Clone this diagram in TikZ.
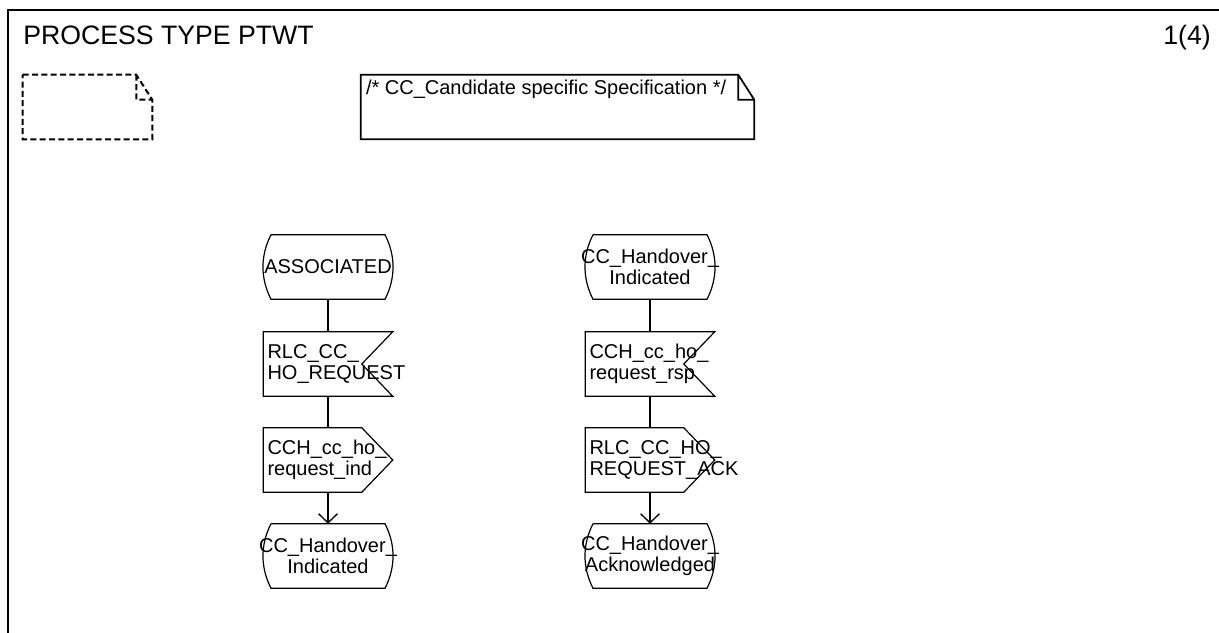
\documentclass[tikz,border=0pt]{standalone}
\usepackage{fontspec}
\setmainfont{Liberation Sans}
\usetikzlibrary{arrows.meta}

\tikzset{
  sdltext/.style={font=\fontsize{15}{15.75}\selectfont, execute at begin node={\hyphenpenalty=10000\exhyphenpenalty=10000}},
  statebox/.style={sdltext, minimum width=85.5pt, minimum height=48pt, inner sep=0pt, align=center},
  signalbox/.style={sdltext, minimum height=48pt, text width=90.75pt, inner sep=3pt, align=left},
  textbox/.style={minimum width=#1, minimum height=48pt, inner sep=0pt},
  shapeline/.style={line width=0.9pt},
  flow/.style={line width=1.4pt},
}

\begin{document}
\begin{tikzpicture}[x=0.75pt, y=-0.75pt]
  \useasboundingbox (0,0) rectangle (1219,632);
  \clip (0,0) rectangle (1219,632);
  % frame and heading
  \draw[line width=1.5pt] (8,700) -- (8,10) -- (1300,10);
  \node[anchor=base west, inner sep=0pt, font=\fontsize{20}{24}\selectfont] (title) at (23,44.5) {PROCESS TYPE PTWT};
  \node[anchor=base east, inner sep=0pt, font=\fontsize{20}{24}\selectfont] (page) at (1211,44.5) {1(4)};

  % text symbols
  \node[textbox=96.75pt] (note) at (87.5,107) {};
  \node[textbox=294.75pt] (cmt) at (557.5,107) {};
  \node[anchor=base west, inner sep=0pt, sdltext] (cmttext) at ([xshift=3.75pt, yshift=-15pt]cmt.north west) {/* CC\_Candidate specific Specification */};
  \draw[line width=1.5pt, dash pattern=on 4.5pt off 2.5pt]
    (note.north west) -- ([xshift=-12pt]note.north east) -- ([yshift=-18.75pt]note.north east)
    -- (note.south east) -- (note.south west) -- cycle
    ([xshift=-12pt]note.north east) -- ([xshift=-12pt, yshift=-18.75pt]note.north east) -- ([yshift=-18.75pt]note.north east);
  \draw[line width=1.3pt]
    (cmt.north west) -- ([xshift=-12pt]cmt.north east) -- ([yshift=-18.75pt]cmt.north east)
    -- (cmt.south east) -- (cmt.south west) -- cycle
    ([xshift=-12pt]cmt.north east) -- ([xshift=-12pt, yshift=-18.75pt]cmt.north east) -- ([yshift=-18.75pt]cmt.north east);

  % left transition
  \node[statebox] (a1) at (328,267) {ASSOCIATED};
  \node[signalbox] (a2) at (328,364) {RLC\_CC\_\\HO\_REQUEST};
  \node[signalbox] (a3) at (328,460) {CCH\_cc\_ho\_\\request\_ind};
  \node[statebox] (a4) at (328,556) {CC\_Handover\_\\Indicated};

  % right transition
  \node[statebox] (b1) at (650,267) {CC\_Handover\_\\Indicated};
  \node[signalbox] (b2) at (650,364) {CCH\_cc\_ho\_\\request\_rsp};
  \node[signalbox] (b3) at (650,460) {RLC\_CC\_HO\_\\REQUEST\_ACK};
  \node[statebox] (b4) at (650,556) {CC\_Handover\_\\Acknowledged};

  % symbol outlines
  \foreach \n in {a1,a4,b1,b4}
    \draw[shapeline] ([xshift=-42.75pt]\n.north) -- ([xshift=42.75pt]\n.north)
      .. controls +(10.7,21) and +(10.7,-21) .. ([xshift=42.75pt]\n.south)
      -- ([xshift=-42.75pt]\n.south)
      .. controls +(-10.7,-21) and +(-10.7,21) .. ([xshift=-42.75pt]\n.north);
  \foreach \n in {a2,b2}
    \draw[shapeline] (\n.north west) -- (\n.north east) -- ([xshift=-23.25pt]\n.east)
      -- (\n.south east) -- (\n.south west) -- cycle;
  \foreach \n in {a3,b3}
    \draw[shapeline] (\n.north west) -- ([xshift=-23.25pt]\n.north east) -- (\n.east)
      -- ([xshift=-23.25pt]\n.south east) -- (\n.south west) -- cycle;

  % connectors
  \foreach \x/\y in {a1/a2,a2/a3,b1/b2,b2/b3}
    \draw[flow] (\x) -- (\y);
  \foreach \x/\y in {a3/a4,b3/b4}
    \draw[flow, -{Straight Barb[length=6.75pt, width=14pt, line width=1pt]}] (\x) -- (\y);
\end{tikzpicture}
\end{document}
